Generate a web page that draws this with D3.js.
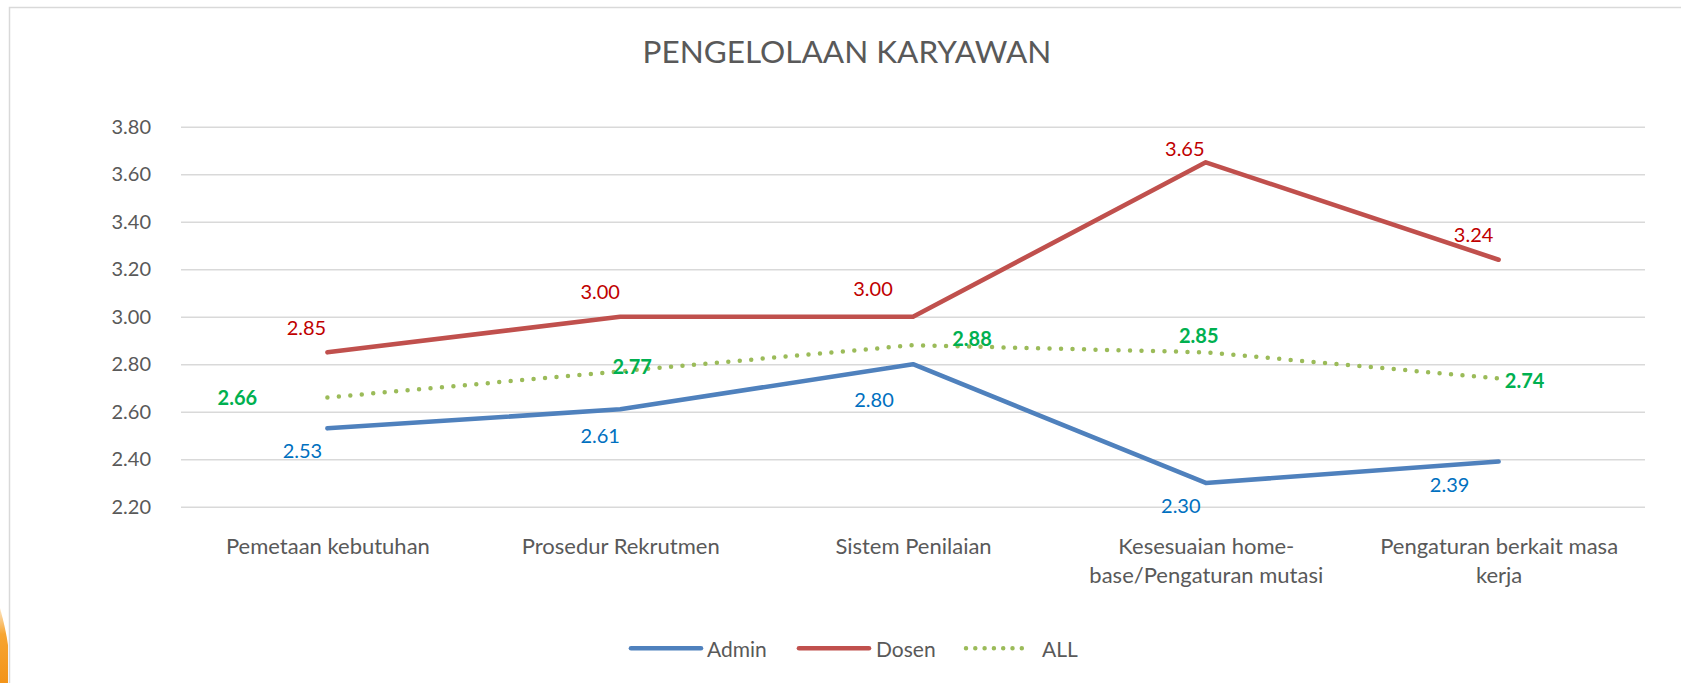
<!DOCTYPE html>
<html>
<head>
<meta charset="utf-8">
<script src="https://cdn.jsdelivr.net/npm/d3@7"></script>
<style>
  html, body { margin: 0; padding: 0; background: #ffffff; }
  svg { display: block; }
  text { font-family: Lato, "Open Sans", sans-serif; }
</style>
</head>
<body>
<script>
// ---------- DATA ----------
const title = "PENGELOLAAN KARYAWAN";
const categories = [
  "Pemetaan kebutuhan",
  "Prosedur Rekrutmen",
  "Sistem Penilaian",
  "Kesesuaian home-base/Pengaturan mutasi",
  "Pengaturan berkait masa kerja"
];
const seriesNames = ["Admin", "Dosen", "ALL"];
const adminValues = [2.53, 2.61, 2.80, 2.30, 2.39];
const dosenValues = [2.85, 3.00, 3.00, 3.65, 3.24];
const allValues   = [2.66, 2.77, 2.88, 2.85, 2.74];
const yTicks = [2.20, 2.40, 2.60, 2.80, 3.00, 3.20, 3.40, 3.60, 3.80];

// ---------- STYLE / LAYOUT ----------
const W = 1681, H = 683;
const plot = { left: 181, right: 1645, top: 126.7, bottom: 506.7 };
const styles = {
  Admin: { stroke: "#4F81BD", width: 4.6, dash: null, label: "#0070C0", weight: 400 },
  Dosen: { stroke: "#C0504D", width: 4.6, dash: null, label: "#C00000", weight: 400 },
  ALL:   { stroke: "#9BBB59", width: 4.5, dash: "0 11.5", label: "#00B050", weight: 700 }
};
// manual data-label offsets (relative to each point), as placed in the original
const labelOffsets = {
  Admin: [[-25, 22], [-20, 26], [-39, 35], [-25, 22], [-49, 22]],
  Dosen: [[-21, -25], [-20, -26], [-40, -29], [-21, -14], [-25, -26]],
  ALL:   [[-90, 0], [12, -5], [59, -7.5], [-7, -17], [26, 2]]
};
const fontSize = 20;
const catFontSize = 22;
const legendFontSize = 21;
const textGrey = "#595959";

const seriesData = { Admin: adminValues, Dosen: dosenValues, ALL: allValues };

const svg = d3.select("body").append("svg")
  .attr("width", W).attr("height", H);

// slide background bit (orange) at bottom-left
const defs = svg.append("defs");
const grad = defs.append("linearGradient").attr("id", "og")
  .attr("x1", "0").attr("y1", "0").attr("x2", "0").attr("y2", "1");
grad.append("stop").attr("offset", "0").attr("stop-color", "#fde6c4");
grad.append("stop").attr("offset", "0.35").attr("stop-color", "#f7a531");
grad.append("stop").attr("offset", "1").attr("stop-color", "#f39419");
svg.append("path")
  .attr("d", "M0,608 Q6,630 8,645 L8,683 L0,683 Z")
  .attr("fill", "url(#og)");

// chart area border
svg.append("rect")
  .attr("x", 9.5).attr("y", 7.5)
  .attr("width", W + 20).attr("height", H + 20)
  .attr("fill", "#ffffff")
  .attr("stroke", "#D9D9D9").attr("stroke-width", 1.5);

// scales
const x = d3.scalePoint().domain(categories).range([plot.left, plot.right]).padding(0.5);
const y = d3.scaleLinear().domain([2.2, 3.8]).range([plot.bottom, plot.top]);

// gridlines via axis
const yAxisG = svg.append("g").attr("transform", `translate(${plot.left},0)`)
  .call(d3.axisLeft(y).tickValues(yTicks).tickSize(-(plot.right - plot.left)).tickPadding(30)
    .tickFormat(d3.format(".2f")));
yAxisG.select(".domain").remove();
yAxisG.selectAll(".tick line").attr("stroke", "#D9D9D9").attr("stroke-width", 1.5);
yAxisG.selectAll(".tick text")
  .attr("fill", textGrey).attr("font-size", fontSize)
  .attr("font-family", "Lato, sans-serif");

// title
svg.append("text")
  .attr("x", 847).attr("y", 63)
  .attr("text-anchor", "middle")
  .attr("fill", textGrey)
  .attr("font-size", 31.5)
  .text(title);

// x-axis category labels with wrapping
const xAxisG = svg.append("g").attr("transform", `translate(0,${plot.bottom})`)
  .call(d3.axisBottom(x).tickSize(0).tickPadding(0));
xAxisG.select(".domain").remove();
xAxisG.selectAll(".tick text").remove();
const maxLabelWidth = 268;
xAxisG.selectAll(".tick").each(function(d) {
  const g = d3.select(this);
  const t = g.append("text")
    .attr("text-anchor", "middle")
    .attr("fill", textGrey)
    .attr("font-size", catFontSize)
    .attr("y", 47);
  // tokens: break at spaces and after hyphens
  const tokens = [];
  d.split(" ").forEach((w, wi) => {
    const parts = w.split(/(?<=-)/);
    parts.forEach((p, pi) => tokens.push({ text: p, sep: (pi === 0 && wi > 0) ? " " : "" }));
  });
  const lines = [];
  let cur = "";
  const probe = t.append("tspan");
  tokens.forEach(tok => {
    const cand = cur === "" ? tok.text : cur + tok.sep + tok.text;
    probe.text(cand);
    if (cur !== "" && probe.node().getComputedTextLength() > maxLabelWidth) {
      lines.push(cur);
      cur = tok.text;
    } else {
      cur = cand;
    }
  });
  lines.push(cur);
  probe.remove();
  lines.forEach((ln, i) => {
    t.append("tspan").attr("x", 0).attr("dy", i === 0 ? 0 : 29.5).text(ln);
  });
});

// lines
const line = d3.line()
  .x((v, i) => x(categories[i]))
  .y(v => y(v));

seriesNames.forEach(name => {
  const s = styles[name];
  const p = svg.append("path")
    .datum(seriesData[name])
    .attr("d", line)
    .attr("fill", "none")
    .attr("stroke", s.stroke)
    .attr("stroke-width", s.width)
    .attr("stroke-linecap", "round")
    .attr("stroke-linejoin", "round");
  if (s.dash) p.attr("stroke-dasharray", s.dash);
});

// data labels
seriesNames.forEach(name => {
  const s = styles[name];
  svg.append("g").selectAll("text")
    .data(seriesData[name])
    .join("text")
    .attr("x", (v, i) => x(categories[i]) + labelOffsets[name][i][0])
    .attr("y", (v, i) => y(v) + labelOffsets[name][i][1])
    .attr("text-anchor", "middle")
    .attr("dominant-baseline", "central")
    .attr("fill", s.label)
    .attr("font-size", fontSize)
    .attr("font-weight", s.weight)
    .text(v => d3.format(".2f")(v));
});

// legend
const legendItems = [
  { name: "Admin", x0: 631, x1: 701, tx: 707 },
  { name: "Dosen", x0: 799, x1: 869, tx: 876 },
  { name: "ALL",   x0: 966, x1: 1031, tx: 1042 }
];
const ly = 648.3;
const lg = svg.append("g");
legendItems.forEach(it => {
  const s = styles[it.name];
  const l = lg.append("line")
    .attr("x1", it.x0).attr("x2", it.x1).attr("y1", ly).attr("y2", ly)
    .attr("stroke", s.stroke).attr("stroke-width", s.width)
    .attr("stroke-linecap", "round");
  if (s.dash) l.attr("stroke-dasharray", "0 9.3");
  lg.append("text")
    .attr("x", it.tx).attr("y", ly)
    .attr("dominant-baseline", "central")
    .attr("fill", textGrey)
    .attr("font-size", legendFontSize)
    .text(it.name);
});
</script>
</body>
</html>
